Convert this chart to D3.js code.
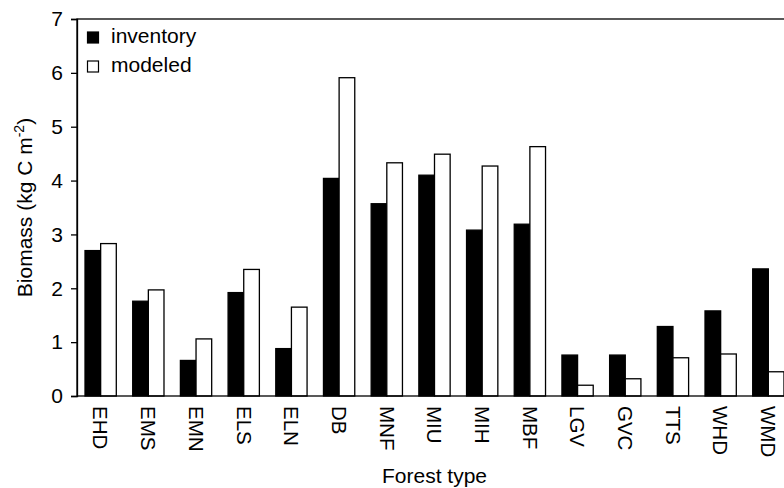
<!DOCTYPE html>
<html>
<head>
<meta charset="utf-8">
<script src="https://cdn.jsdelivr.net/npm/d3@7"></script>
<style>
  html, body { margin: 0; padding: 0; background: #fff; }
  svg { display: block; font-family: "Liberation Sans", Arial, sans-serif; }
</style>
</head>
<body>
<svg id="chart" width="784" height="488"></svg>
<script>
const categories = ["EHD","EMS","EMN","ELS","ELN","DB","MNF","MIU","MIH","MBF","LGV","GVC","TTS","WHD","WMD"];
const inventory = [2.70, 1.76, 0.66, 1.92, 0.88, 4.04, 3.57, 4.10, 3.08, 3.19, 0.76, 0.76, 1.29, 1.58, 2.36];
const modeled   = [2.83, 1.97, 1.06, 2.35, 1.65, 5.91, 4.33, 4.49, 4.27, 4.63, 0.20, 0.32, 0.71, 0.78, 0.45];
const seriesNames = ["inventory", "modeled"];
const yTicks = [0, 1, 2, 3, 4, 5, 6, 7];

const svg = d3.select("#chart");
const mLeft = 77, mRight = 792, mTop = 19, mBottom = 396;

const x = d3.scaleBand().domain(categories).range([mLeft, mRight])
  .paddingInner(0.344).paddingOuter(0.168);
const xs = d3.scaleBand().domain(seriesNames).range([0, x.bandwidth()]).padding(0);
const y = d3.scaleLinear().domain([0, 7]).range([mBottom, mTop]);

const fills = { inventory: "#000", modeled: "#fff" };
const rows = categories.map((c, i) => ({ c, vals: [
  { s: "inventory", v: inventory[i] },
  { s: "modeled", v: modeled[i] }
]}));

const g = svg.append("g");
g.selectAll("g.grp").data(rows).join("g")
  .attr("class", "grp")
  .attr("transform", d => `translate(${x(d.c)},0)`)
  .selectAll("rect").data(d => d.vals).join("rect")
  .attr("x", d => xs(d.s))
  .attr("y", d => y(d.v))
  .attr("width", xs.bandwidth())
  .attr("height", d => y(0) - y(d.v))
  .attr("fill", d => fills[d.s])
  .attr("stroke", "#000")
  .attr("stroke-width", 1.3);

// frame
svg.append("rect")
  .attr("x", mLeft).attr("y", mTop)
  .attr("width", mRight - mLeft).attr("height", mBottom - mTop)
  .attr("fill", "none").attr("stroke", "#000").attr("stroke-width", 1.3);

// y axis
const yAxis = svg.append("g")
  .attr("transform", `translate(${mLeft},0)`)
  .call(d3.axisLeft(y).tickValues(yTicks).tickFormat(d3.format("d")).tickSize(6).tickPadding(8));
yAxis.select(".domain").attr("stroke-width", 1.3);
yAxis.selectAll(".tick line").attr("stroke-width", 1.3);
yAxis.selectAll("text").attr("font-size", 21).attr("font-family", "Liberation Sans, Arial, sans-serif").attr("fill", "#000");

// x labels (rotated)
svg.append("g").selectAll("text").data(categories).join("text")
  .attr("transform", d => `translate(${x(d) + x.bandwidth() / 2},${mBottom + 10}) rotate(90)`)
  .attr("dy", "0.35em")
  .attr("text-anchor", "start")
  .attr("font-size", 20.5)
  .text(d => d);

// axis titles
svg.append("text")
  .attr("x", (mLeft + mRight) / 2).attr("y", 483)
  .attr("text-anchor", "middle").attr("font-size", 21)
  .text("Forest type");

const yl = svg.append("text")
  .attr("transform", `translate(32,${(mTop + mBottom) / 2}) rotate(-90)`)
  .attr("text-anchor", "middle").attr("font-size", 21);
yl.append("tspan").text("Biomass (kg C m");
yl.append("tspan").attr("font-size", 14).attr("dy", -8).text("-2");
yl.append("tspan").attr("dy", 8).text(")");

// legend
const leg = svg.append("g");
seriesNames.forEach((s, i) => {
  const by = 43 + i * 29;
  leg.append("rect")
    .attr("x", 87.5).attr("y", by - 11).attr("width", 11).attr("height", 11)
    .attr("fill", fills[s]).attr("stroke", "#000").attr("stroke-width", 1.2);
  leg.append("text").attr("x", 111).attr("y", by).attr("font-size", 21).text(s);
});
</script>
</body>
</html>
